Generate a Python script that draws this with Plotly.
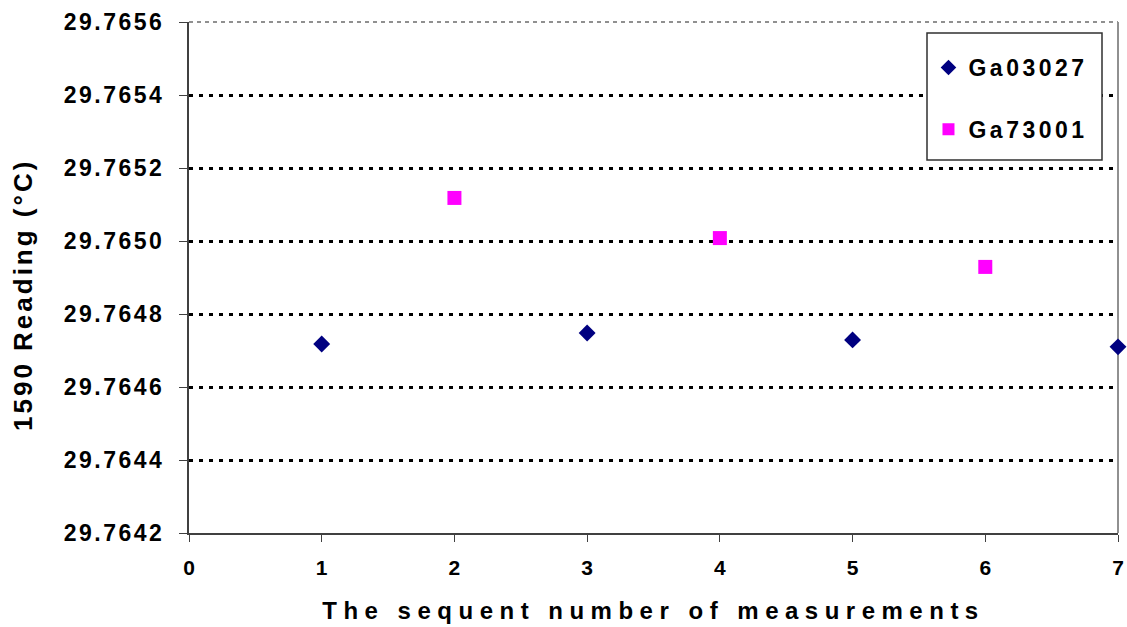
import plotly.graph_objects as go

# Data
x_ga03027 = [1, 3, 5, 7]
y_ga03027 = [29.764718, 29.764748, 29.764729, 29.764710]
x_ga73001 = [2, 4, 6]
y_ga73001 = [29.765118, 29.765008, 29.764929]

y_tickvals = [29.7642, 29.7644, 29.7646, 29.7648, 29.7650, 29.7652, 29.7654, 29.7656]
y_ticklabels = ["29.7642", "29.7644", "29.7646", "29.7648", "29.7650", "29.7652", "29.7654", "29.7656"]
x_tickvals = [0, 1, 2, 3, 4, 5, 6, 7]
x_ticklabels = ["0", "1", "2", "3", "4", "5", "6", "7"]

series_names = ["Ga03027", "Ga73001"]
x_title = "The sequent number of measurements"
y_title = "1590 Reading (°C)"

FONT = "Liberation Sans, Arial, sans-serif"

def spaced(t, px):
    return f'<span style="letter-spacing:{px}px">{t}</span>'

fig = go.Figure()
fig.add_trace(go.Scatter(
    x=x_ga03027, y=y_ga03027, mode="markers", name=spaced(series_names[0], 3.5),
    legendgroup="a",
    marker=dict(symbol="diamond", size=13, color="#000080"), cliponaxis=False))
fig.add_trace(go.Scatter(
    x=x_ga73001, y=y_ga73001, mode="markers", name=spaced(series_names[1], 3.5),
    legendgroup="b",
    marker=dict(symbol="square", size=14, color="#FF00FF"), cliponaxis=False))

fig.update_layout(
    width=1127, height=627,
    margin=dict(l=189, r=9, t=22, b=94),
    paper_bgcolor="white", plot_bgcolor="white",
    font=dict(family=FONT, color="black", size=20, weight="bold"),
    showlegend=True,
    legend=dict(x=0.796, y=0.953, xanchor="left", yanchor="top",
                borderwidth=0, bgcolor="rgba(0,0,0,0)",
                font=dict(size=23, weight="bold"), itemsizing="constant",
                tracegroupgap=29, itemwidth=30),
)
fig.update_xaxes(
    range=[0, 7], tickvals=x_tickvals, ticktext=x_ticklabels,
    showgrid=False, zeroline=False, automargin=False,
    showline=True, linecolor="#404040", linewidth=2,
    ticks="outside", ticklen=7, tickcolor="#404040", tickwidth=1,
    ticklabelstandoff=8,
    tickfont=dict(size=21, weight="bold"),
    title=dict(text=spaced(x_title, 6.5), font=dict(size=24, weight="bold"), standoff=24),
)
fig.update_yaxes(
    range=[29.7642, 29.7656], tickvals=y_tickvals, ticktext=[spaced(t, 2.5) for t in y_ticklabels],
    showgrid=True, gridcolor="black", gridwidth=2.5, griddash="4px,6px",
    zeroline=False, automargin=False,
    showline=True, linecolor="#404040", linewidth=2,
    ticks="outside", ticklen=8, tickcolor="#404040", tickwidth=1,
    ticklabelstandoff=10,
    tickfont=dict(size=23, weight="bold"),
)
# y-axis title as rotated annotation
fig.add_annotation(text=spaced(y_title, 3), textangle=-90, showarrow=False,
                   xref="paper", yref="paper",
                   x=(23 - 189) / 929, y=(533 - 295) / 511,
                   xanchor="center", yanchor="middle",
                   font=dict(size=26, weight="bold", color="black"))
# gray plot border on top/right
fig.add_shape(type="line", xref="paper", yref="paper", x0=1, x1=1, y0=0, y1=1,
              line=dict(color="#909090", width=2), layer="below")
fig.add_shape(type="line", xref="paper", yref="paper", x0=0, x1=1, y0=1, y1=1,
              line=dict(color="#909090", width=2, dash="4px,4px"), layer="below")
# legend box
fig.add_shape(type="rect", xref="paper", yref="paper",
              x0=(927 - 189) / 929, x1=(1102 - 189) / 929,
              y0=(533 - 160) / 511, y1=(533 - 33) / 511,
              line=dict(color="#303030", width=1.5), fillcolor="white", layer="above")

fig.write_html("out.html")
